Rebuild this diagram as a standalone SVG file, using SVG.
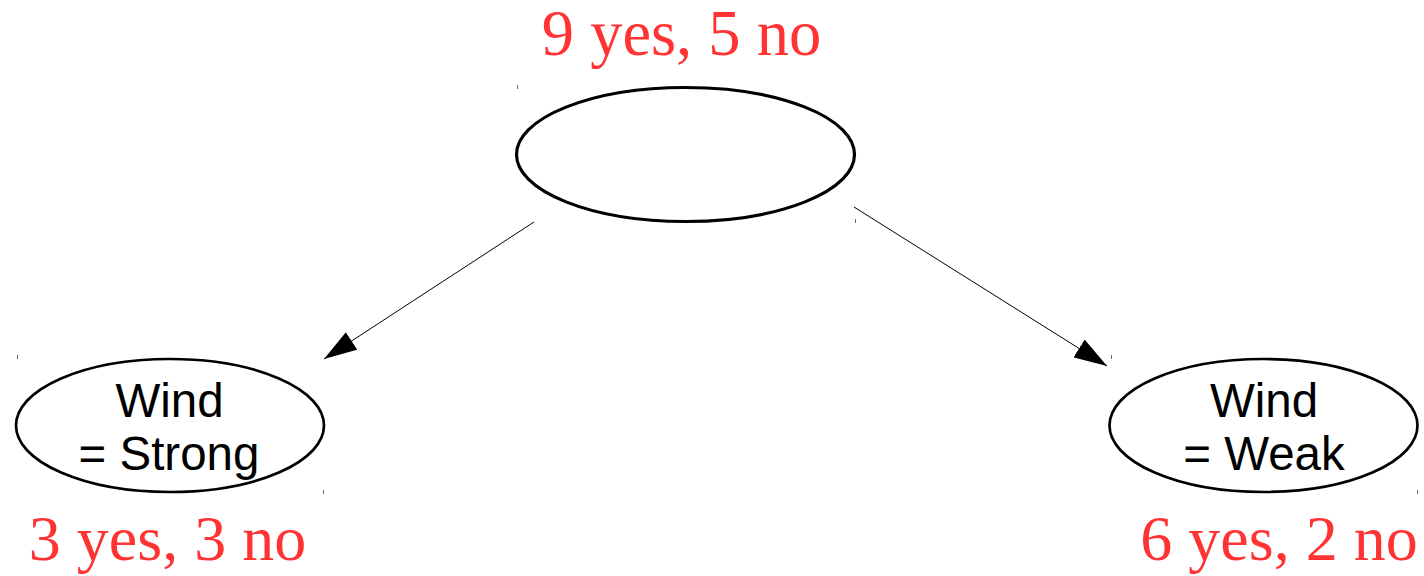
<svg xmlns="http://www.w3.org/2000/svg" width="1424" height="576" viewBox="0 0 1424 576">
  <style>
    .node { fill: #ffffff; stroke: #000000; }
    .lbl { font-family: "Liberation Sans", Arial, sans-serif; font-size: 47.5px; fill: #000000; text-anchor: middle; }
    .count { font-family: "Liberation Serif", "Times New Roman", serif; font-size: 64px; fill: #ff3333; text-anchor: middle; }
    .edge { stroke: #000000; stroke-width: 1; fill: none; marker-end: url(#arrow); }
    .tick { stroke: #666666; stroke-width: 1; }
  </style>
  <defs>
    <marker id="arrow" markerUnits="userSpaceOnUse" markerWidth="33" markerHeight="21" refX="33" refY="10.5" orient="auto" viewBox="0 0 33 21">
      <path d="M0,0 L33,10.5 L0,21 z" fill="#000000"/>
    </marker>
  </defs>
  <g id="connectors">
    <line class="edge" x1="534" y1="222" x2="324" y2="359"/>
    <line class="edge" x1="854" y1="207" x2="1107" y2="366"/>
  </g>
  <g id="root">
    <line class="tick" x1="517.5" y1="85" x2="517.5" y2="89"/>
    <line class="tick" x1="855.5" y1="219" x2="855.5" y2="223"/>
    <ellipse class="node" cx="685.5" cy="154.5" rx="169" ry="67" stroke-width="3.2"/>
    <text class="count" x="681.5" y="55" style="font-size:64.5px">9 yes, 5 no</text>
  </g>
  <g id="wind-strong">
    <line class="tick" x1="17.5" y1="355" x2="17.5" y2="359"/>
    <line class="tick" x1="323.5" y1="490" x2="323.5" y2="494"/>
    <ellipse class="node" cx="170" cy="425.5" rx="154" ry="66.5" stroke-width="2.7"/>
    <text class="lbl" x="169.5" y="417">Wind</text>
    <text class="lbl" x="169" y="470">= Strong</text>
    <text class="count" x="167.5" y="560">3 yes, 3 no</text>
  </g>
  <g id="wind-weak">
    <line class="tick" x1="1111.5" y1="355" x2="1111.5" y2="359"/>
    <line class="tick" x1="1417.5" y1="490" x2="1417.5" y2="494"/>
    <ellipse class="node" cx="1263.5" cy="425.5" rx="154" ry="66.5" stroke-width="2.7"/>
    <text class="lbl" x="1264" y="417">Wind</text>
    <text class="lbl" x="1264" y="470">= Weak</text>
    <text class="count" x="1279" y="560">6 yes, 2 no</text>
  </g>
</svg>
